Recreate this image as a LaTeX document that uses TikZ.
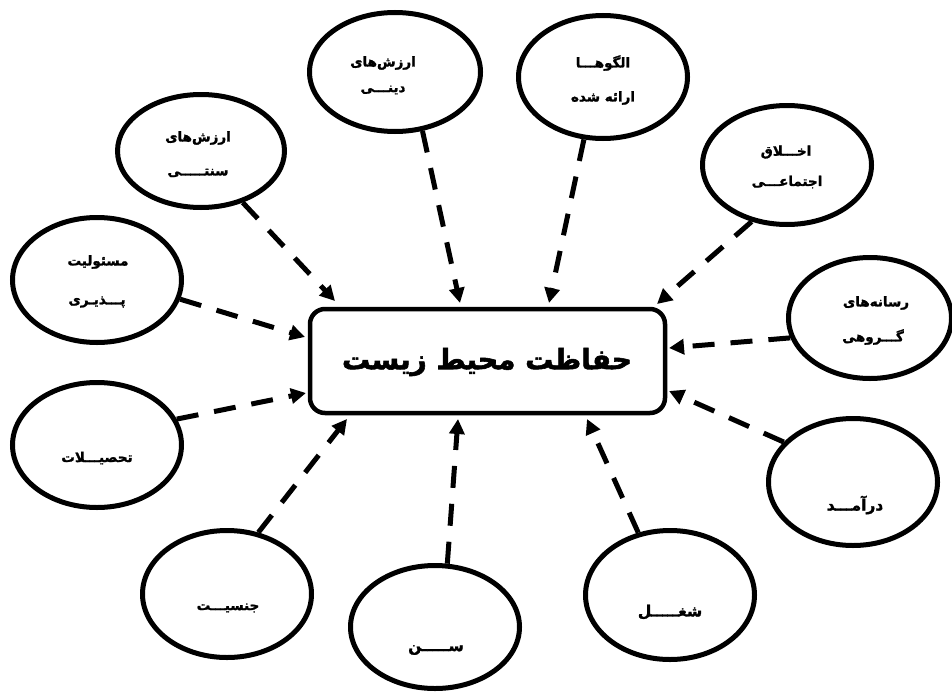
\documentclass[tikz,border=0pt]{standalone}
\usepackage{fontspec}
\newfontfamily\fa[Script=Arabic,FakeBold=1.5]{DejaVu Sans Bold}
\newfontfamily\fatitle[Script=Arabic,FakeBold=2]{DejaVu Sans Bold}
\TeXXeTstate=1
\usetikzlibrary{shapes.geometric,arrows.meta}
\newcommand{\rl}[1]{\beginR #1\endR}
\tikzset{
  ell/.style={draw, ellipse, line width=5pt, inner sep=0pt},
  lab/.style={inner sep=0pt, font=\fa\fontsize{13.5}{16}\selectfont},
  biglab/.style={inner sep=0pt, font=\fa\fontsize{15.5}{18}\selectfont},
  centerbox/.style={draw, rectangle, rounded corners=15pt, line width=4.5pt, minimum width=355pt, minimum height=104pt},
  arr/.style={line width=5pt, dash pattern=on 22pt off 16pt, -{Triangle[length=15pt,width=15pt]}}
}
\begin{document}
\begin{tikzpicture}[x=1pt,y=-1pt]
\useasboundingbox (0,0) rectangle (952,693);
% central box
\node[centerbox] (box) at (487.5,361) {};
\node[inner sep=0pt, font=\fatitle\fontsize{28}{34}\selectfont] (title) at (487,362) {\rl{حفاظت محیط زیست}};
% ellipses
\node[ell, minimum width=171pt, minimum height=119pt] (dini) at (395,72) {};
\node[ell, minimum width=169pt, minimum height=123pt] (olgo) at (603,77) {};
\node[ell, minimum width=167pt, minimum height=113pt] (sonati) at (201,151) {};
\node[ell, minimum width=169pt, minimum height=125pt] (masul) at (97,280) {};
\node[ell, minimum width=169pt, minimum height=119pt] (akhlagh) at (787,165) {};
\node[ell, minimum width=163pt, minimum height=121pt] (resane) at (870,318) {};
\node[ell, minimum width=169pt, minimum height=125pt] (tahsil) at (97,445) {};
\node[ell, minimum width=169pt, minimum height=127pt] (jens) at (227,594) {};
\node[ell, minimum width=169pt, minimum height=123pt] (sen) at (435,627) {};
\node[ell, minimum width=169pt, minimum height=129pt] (shoghl) at (670,595) {};
\node[ell, minimum width=169pt, minimum height=127pt] (daramad) at (853,482) {};
% labels
\node[lab] (ldini1) at (383,63) {\rl{ارزش‌های}};
\node[lab] (ldini2) at (383,90) {\rl{دینـــی}};
\node[lab] (lolgo1) at (603,63) {\rl{الگوهـــا}};
\node[lab] (lolgo2) at (603,98) {\rl{ارائه شده}};
\node[lab] (lsonati1) at (198,138) {\rl{ارزش‌های}};
\node[lab] (lsonati2) at (198,173) {\rl{سنتـــــی}};
\node[lab] (lmasul1) at (98,262) {\rl{مسئولیت}};
\node[lab] (lmasul2) at (97,302) {\rl{پـــذیـری}};
\node[lab] (lakhlagh1) at (786,152) {\rl{اخـــلاق}};
\node[lab] (lakhlagh2) at (787,182) {\rl{اجتماعـــی}};
\node[lab] (lresane1) at (876,303) {\rl{رسانه‌های}};
\node[lab] (lresane2) at (873,337) {\rl{گـــروهی}};
\node[lab] (ltahsil) at (97,458) {\rl{تحصیـــلات}};
\node[lab] (ljens) at (228,608) {\rl{جنسیـــت}};
\node[biglab] (lsen) at (436,650) {\rl{ســـــن}};
\node[biglab] (lshoghl) at (670,612) {\rl{شغـــــل}};
\node[biglab] (ldaramad) at (855,505) {\rl{درآمـــد}};
% arrow tips on the box
\coordinate (tdini) at (460,303);
\coordinate (tolgo) at (549,303);
\coordinate (takhlagh) at (657,304);
\coordinate (tresane) at (669,348);
\coordinate (tdaramad) at (669,391);
\coordinate (tshoghl) at (587,419);
\coordinate (tsen) at (458,419);
\coordinate (tjens) at (347,419);
\coordinate (ttahsil) at (306,393);
\coordinate (tmasul) at (305,337);
\coordinate (tsonati) at (335,301);
% connectors
\draw[arr] (dini.-65) -- (tdini);
\draw[arr] (olgo.-107) -- (tolgo);
\draw[arr] (akhlagh.-122) -- (takhlagh);
\draw[arr] (resane.194) -- (tresane);
\draw[arr] (daramad.150) -- (tdaramad);
\draw[arr] (shoghl.117) -- (tshoghl);
\draw[arr] (sen.79) -- (tsen);
\draw[arr] (jens.63) -- (tjens);
\draw[arr] (tahsil.18) -- (ttahsil);
\draw[arr] (masul.-13) -- (tmasul);
\draw[arr] (sonati.-51) -- (tsonati);
\end{tikzpicture}
\end{document}
